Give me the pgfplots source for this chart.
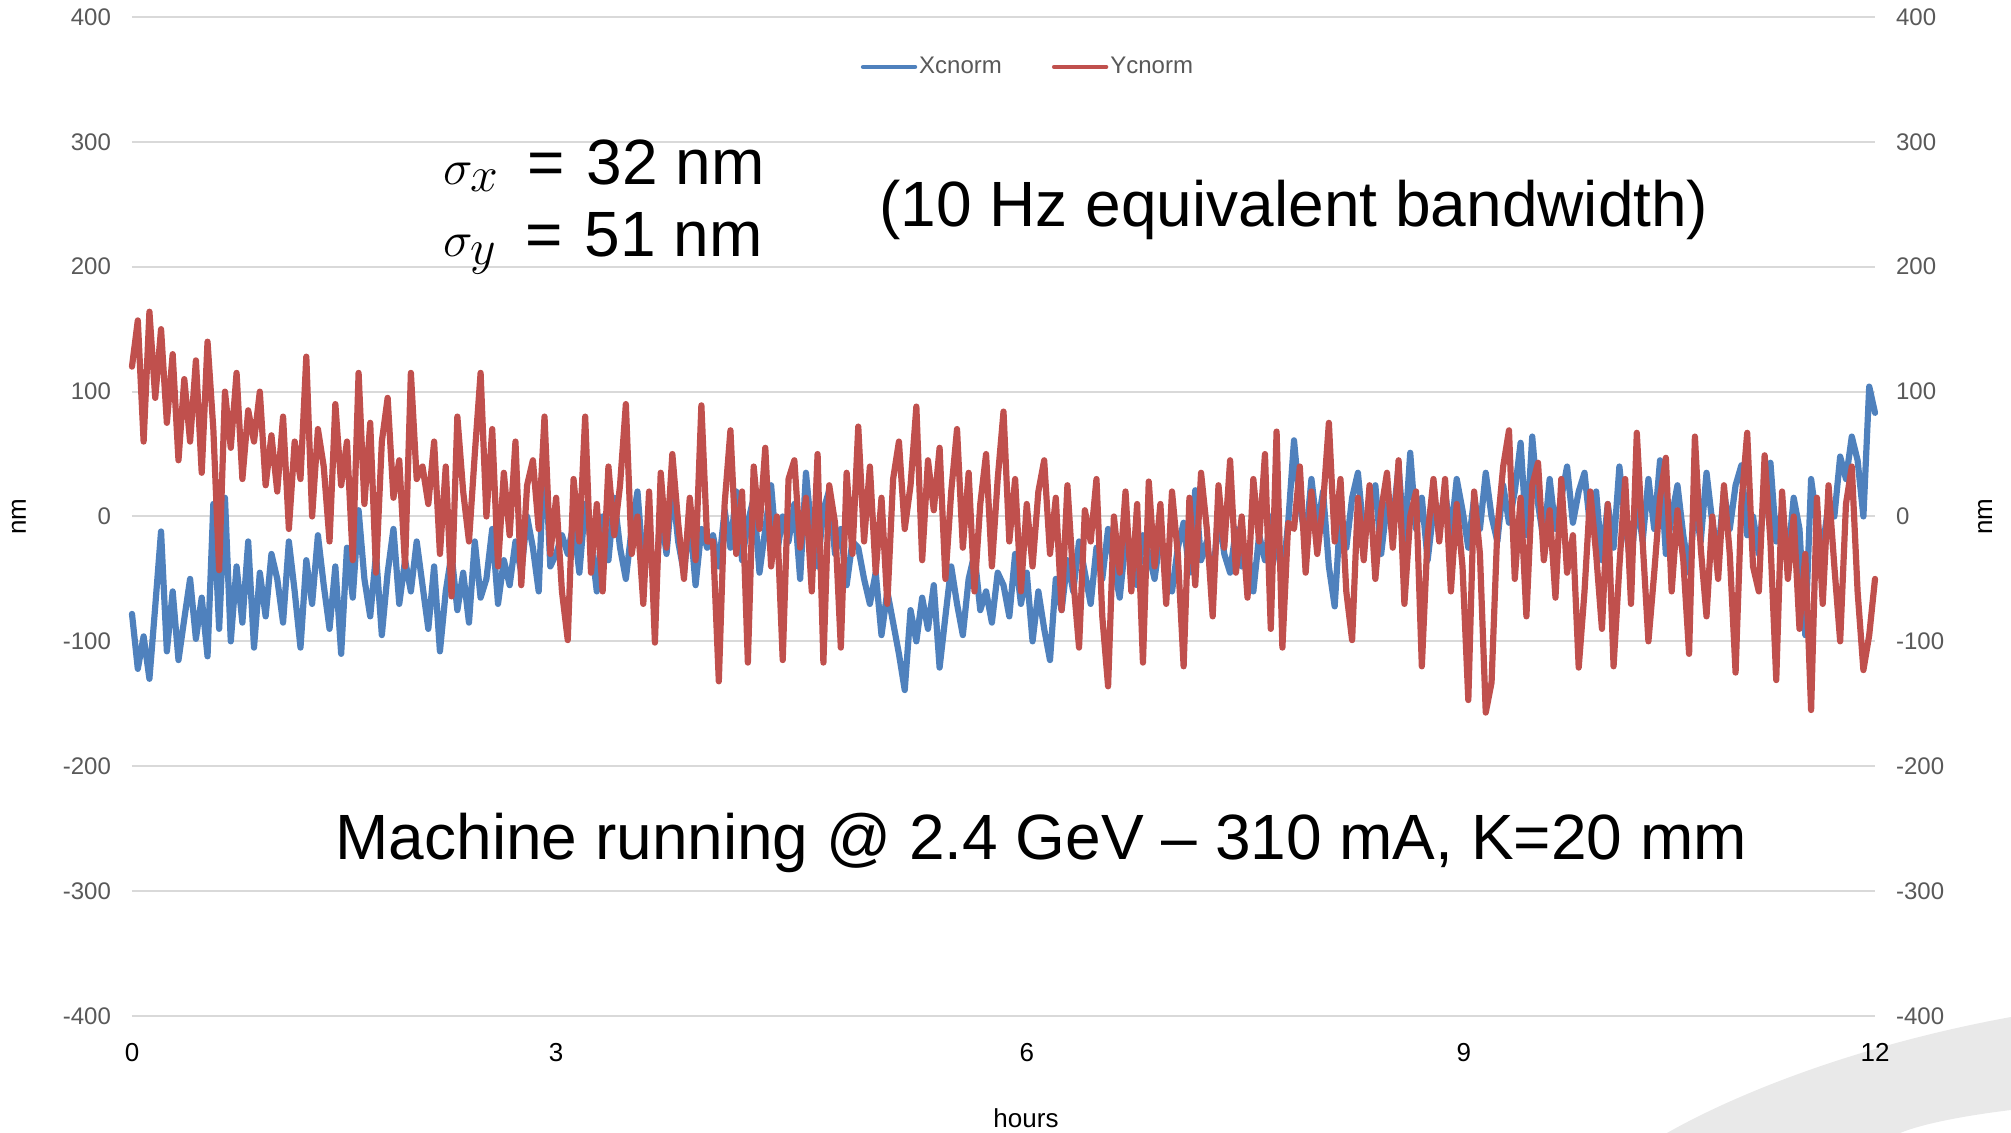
\documentclass[border=0pt]{standalone}
\usepackage{fontspec}
\setmainfont{Liberation Sans}
\usepackage{pgfplots}
\pgfplotsset{compat=1.18}
\usepackage{pgfplotstable}

\definecolor{xblue}{HTML}{4F81BD}
\definecolor{yred}{HTML}{C0504D}
\definecolor{gridgray}{HTML}{D9D9D9}
\definecolor{ticktxt}{HTML}{595959}
\definecolor{swoosh}{HTML}{E9E9E9}

% t [hours], Xcnorm [nm], Ycnorm [nm]
\pgfplotstableread{
t X Y
0.00 -78 120
0.04 -122 157
0.08 -96 60
0.12 -130 164
0.16 -72 95
0.20 -12 150
0.24 -108 75
0.28 -60 130
0.32 -115 45
0.36 -82 110
0.40 -50 60
0.44 -98 125
0.48 -65 35
0.52 -112 140
0.56 10 70
0.60 -90 -43
0.64 15 100
0.68 -100 55
0.72 -40 115
0.76 -85 30
0.80 -20 85
0.84 -105 60
0.88 -45 100
0.92 -80 25
0.96 -30 65
1.00 -50 20
1.04 -85 80
1.08 -20 -10
1.12 -60 60
1.16 -105 30
1.20 -35 128
1.24 -70 0
1.28 -15 70
1.32 -55 40
1.36 -90 -20
1.40 -40 90
1.44 -110 25
1.48 -25 60
1.52 -65 -35
1.56 5 115
1.60 -50 10
1.64 -80 75
1.68 -30 -45
1.72 -95 60
1.76 -45 95
1.80 -10 15
1.84 -70 45
1.88 -35 -40
1.92 -60 115
1.96 -20 30
2.00 -55 40
2.04 -90 10
2.08 -40 60
2.12 -108 -30
2.16 -60 40
2.20 -30 -64
2.24 -75 80
2.28 -45 20
2.32 -85 -20
2.36 -20 50
2.40 -65 115
2.44 -50 0
2.48 -10 70
2.52 -70 -40
2.56 -35 35
2.60 -55 -15
2.64 -20 60
2.68 -45 -55
2.72 0 25
2.76 -25 45
2.80 -60 -10
2.84 59 80
2.88 -40 -30
2.92 -30 15
2.96 -15 -60
3.00 -30 -99
3.04 -5 30
3.08 -45 -20
3.12 10 80
3.16 -20 -45
3.20 -60 10
3.24 0 -60
3.28 -35 40
3.32 15 -15
3.36 -25 25
3.40 -50 90
3.44 -10 -30
3.48 20 0
3.52 -40 -70
3.56 -15 20
3.60 -65 -101
3.64 5 35
3.68 -30 -25
3.72 25 50
3.76 -20 -5
3.80 -45 -50
3.84 0 15
3.88 -55 -35
3.92 -10 89
3.96 -25 -20
4.00 -15 -20
4.04 -40 -132
4.08 5 10
4.12 -25 69
4.16 20 -30
4.20 -35 20
4.24 -5 -117
4.28 15 40
4.32 -45 -10
4.36 -10 55
4.40 25 -40
4.44 -30 0
4.48 0 -115
4.52 -20 30
4.56 10 45
4.60 -50 -25
4.64 35 15
4.68 -15 -60
4.72 -40 50
4.76 5 -117
4.80 21 25
4.84 -30 -5
4.88 -10 -105
4.92 -55 35
4.96 -20 -30
5.00 -25 72
5.04 -50 -20
5.08 -70 40
5.12 -45 -45
5.16 -95 15
5.20 -60 -70
5.24 -85 30
5.28 -110 60
5.32 -139 -10
5.36 -75 25
5.40 -100 88
5.44 -65 -35
5.48 -90 45
5.52 -55 5
5.56 -121 55
5.60 -80 -50
5.64 -40 20
5.68 -70 70
5.72 -95 -25
5.76 -50 35
5.80 -30 -60
5.84 -75 10
5.88 -60 50
5.92 -85 -40
5.96 -45 30
6.00 -55 84
6.04 -80 -20
6.08 -30 30
6.12 -70 -60
6.16 -45 10
6.20 -100 -40
6.24 -60 20
6.28 -90 45
6.32 -115 -30
6.36 -50 15
6.40 -75 -75
6.44 -35 25
6.48 -60 -50
6.52 -20 -105
6.56 -45 5
6.60 -70 -20
6.64 -25 30
6.68 -50 -80
6.72 -10 -136
6.76 -40 0
6.80 -65 -45
6.84 -20 20
6.88 -35 -60
6.92 -55 10
6.96 -15 -117
7.00 -30 28
7.04 -50 -40
7.08 -15 10
7.12 -40 -70
7.16 -60 20
7.20 -25 -30
7.24 -5 -120
7.28 -45 15
7.32 21 -55
7.36 -35 35
7.40 -20 -10
7.44 -55 -80
7.48 4 25
7.52 -30 -25
7.56 -45 45
7.60 -10 -45
7.64 -40 0
7.68 -25 -65
7.72 -60 30
7.76 -15 -20
7.80 -35 50
7.84 0 -90
7.88 -20 68
7.92 -50 -105
7.96 -5 -5
8.00 61 -10
8.04 10 40
8.08 -20 -45
8.12 30 20
8.16 -10 -30
8.20 20 10
8.24 -40 75
8.28 -72 -20
8.32 5 30
8.36 -25 -60
8.40 15 -99
8.44 35 15
8.48 -15 -35
8.52 0 25
8.56 25 -50
8.60 -30 5
8.64 10 35
8.68 -5 -25
8.72 40 45
8.76 -20 -70
8.80 51 0
8.84 -10 20
8.88 15 -120
8.92 -35 -15
8.96 5 30
9.00 -5 -20
9.04 20 30
9.08 -15 -60
9.12 30 10
9.16 5 -40
9.20 -25 -147
9.24 15 20
9.28 -10 -30
9.32 35 -157
9.36 0 -133
9.40 -20 -10
9.44 25 40
9.48 -5 69
9.52 20 -50
9.56 59 15
9.60 -15 -80
9.64 64 25
9.68 10 43
9.72 -20 -35
9.76 30 5
9.80 -10 -65
9.84 15 30
9.88 40 -45
9.92 -5 -15
9.96 20 -121
10.00 35 -60
10.04 -10 20
10.08 20 -30
10.12 -35 -90
10.16 10 10
10.20 -25 -120
10.24 40 -40
10.28 -5 30
10.32 -40 -70
10.36 15 67
10.40 -20 -20
10.44 30 -100
10.48 -10 -45
10.52 45 15
10.56 -30 47
10.60 0 -60
10.64 25 5
10.68 -15 -35
10.72 -45 -110
10.76 10 64
10.80 -20 -25
10.84 35 -80
10.88 -5 0
10.92 -30 -50
10.96 20 25
11.00 -10 -30
11.04 25 -125
11.08 41 10
11.12 -15 67
11.16 0 -40
11.20 -30 -60
11.24 20 49
11.28 43 -20
11.32 -20 -131
11.36 5 20
11.40 -35 -50
11.44 15 0
11.48 -10 -90
11.52 -95 -30
11.56 30 -155
11.60 -5 15
11.64 -25 -70
11.68 10 25
11.72 0 -40
11.76 48 -100
11.80 30 10
11.84 64 40
11.88 45 -60
11.92 0 -123
11.96 104 -95
12.00 83 -50
}\datatab

\begin{document}
\begin{tikzpicture}
% page frame (1 px = 0.5 pt)
\path[use as bounding box] (-66pt,-58.5pt) rectangle (939.5pt,508pt);
% slide decoration, bottom right
\fill[swoosh] (767.5pt,-58.5pt) .. controls (800pt,-40pt) and (860pt,-15pt) .. (939.5pt,-0.5pt)
  -- (939.5pt,-47pt) .. controls (915pt,-50pt) and (895pt,-54pt) .. (884pt,-58.5pt) -- cycle;

\begin{axis}[
    at={(0pt,0pt)}, anchor=south west,
    scale only axis,
    width=871.5pt, height=499.5pt,
    xmin=0, xmax=12, ymin=-400, ymax=400,
    axis line style={draw=none},
    major tick length=0pt,
    xtick={0,2.92,6.16,9.17,12}, xticklabels={0,3,6,9,12},
    ytick={-400,-300,-200,-100,0,100,200,300,400},
    yticklabels={-400,-300,-200,-100,0,100,200,300,400},
    ymajorgrids,
    grid style={gridgray, line width=1pt},
    yticklabel style={font=\fontsize{12}{14}\selectfont, text=ticktxt, xshift=-7pt},
    xticklabel style={font=\fontsize{13}{15}\selectfont, text=black, yshift=-10pt},
    clip=false,
    legend columns=2,
    legend style={at={(0.514,0.95)}, anchor=center, draw=none, fill=none,
        font=\fontsize{12}{14}\selectfont, text=ticktxt,
        nodes={inner sep=1pt},
        /tikz/every even column/.append style={column sep=24pt}},
    legend image code/.code={\draw[#1, line width=2.2pt, line cap=round] (0pt,0pt) -- (26pt,0pt);},
]
\addplot[xblue, line width=3.1pt, line join=round, line cap=round] table[x=t, y=X] {\datatab};
\addlegendentry{Xcnorm}
\addplot[yred, line width=3.1pt, line join=round, line cap=round] table[x=t, y=Y] {\datatab};
\addlegendentry{Ycnorm}

\node[anchor=base west, inner sep=0pt, font=\fontsize{32}{38}\selectfont] at (axis cs:2.14,266)
  {{\fontsize{38}{40}\selectfont$\sigma_x$}\hspace{14pt}=\hspace{11pt}32 nm};
\node[anchor=base west, inner sep=0pt, font=\fontsize{32}{38}\selectfont] at (axis cs:2.14,208)
  {{\fontsize{38}{40}\selectfont$\sigma_y$}\hspace{14pt}=\hspace{11pt}51 nm};
\node[anchor=base, inner sep=0pt, font=\fontsize{32}{38}\selectfont] at (axis cs:8.0,232) {(10 Hz equivalent bandwidth)};
\node[anchor=base, inner sep=0pt, font=\fontsize{32}{38}\selectfont] at (axis cs:6.26,-275) {Machine running @ 2.4 GeV – 310 mA, K=20 mm};
\end{axis}

% secondary axis: right-hand tick labels
\begin{axis}[
    at={(0pt,0pt)}, anchor=south west,
    scale only axis,
    width=871.5pt, height=499.5pt,
    xmin=0, xmax=12, ymin=-400, ymax=400,
    hide x axis,
    axis y line*=right,
    axis line style={draw=none},
    major tick length=0pt,
    ytick={-400,-300,-200,-100,0,100,200,300,400},
    yticklabels={-400,-300,-200,-100,0,100,200,300,400},
    yticklabel style={font=\fontsize{12}{14}\selectfont, text=ticktxt, xshift=7pt},
]
\end{axis}

\node[rotate=90, font=\fontsize{13}{15}\selectfont] at (-56.5pt,249.75pt) {nm};
\node[rotate=90, font=\fontsize{13}{15}\selectfont] at (926.5pt,249.75pt) {nm};
\node[font=\fontsize{13}{15}\selectfont] at (447pt,-51pt) {hours};
\end{tikzpicture}
\end{document}
